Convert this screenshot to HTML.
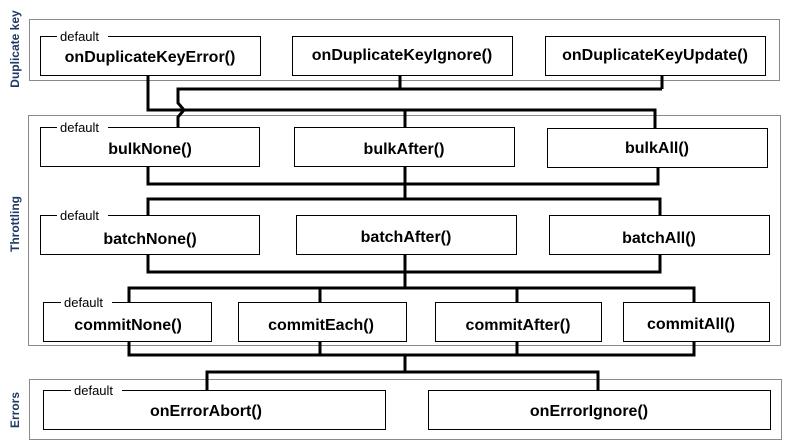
<!DOCTYPE html>
<html><head><meta charset="utf-8"><style>
html,body{margin:0;padding:0;background:#fff;}
svg{display:block;}
.g{fill:none;stroke:#8a8a8a;stroke-width:1}
.b{fill:#fff;stroke:#000;stroke-width:1}
.l{fill:none;stroke:#000;stroke-width:3}
.t{font-family:"Liberation Sans",sans-serif;font-weight:bold;font-size:16px;fill:#000;text-anchor:middle}
.d{font-family:"Liberation Sans",sans-serif;font-size:13px;fill:#000}
.s{font-family:"Liberation Sans",sans-serif;font-weight:bold;font-size:12px;fill:#1f3864;text-anchor:middle}
</style></head><body>
<svg width="787" height="443" viewBox="0 0 787 443" xmlns="http://www.w3.org/2000/svg">
<rect class="g" x="29.5" y="19.5" width="750" height="61"/>
<rect class="g" x="28.5" y="115.5" width="752" height="230"/>
<rect class="g" x="29.5" y="379.5" width="752" height="60"/>
<text class="s" transform="translate(19,49) rotate(-90)">Duplicate key</text>
<text class="s" transform="translate(19,224) rotate(-90)">Throttling</text>
<text class="s" transform="translate(19,410) rotate(-90)">Errors</text>
<!-- connectors -->
<path class="l" d="M148 75 V110 H655 V128 M405 110 V128"/>
<path class="l" d="M400 75 V89 M662 75 V89 M178 127 V117 L184 110 L178 103 V89 H662"/>
<path class="l" d="M148 166 V184 H658 V167 M405 166 V199 M148 215 V199 H660 V215"/>
<path class="l" d="M148 254 V272 H660 V254 M405 254 V288 M129 302 V288 H694 V302 M320 288 V302 M517 288 V302"/>
<path class="l" d="M129 341 V355 H694 V341 M320 341 V355 M517 341 V355 M405 355 V372 M207 390 V372 H598 V390"/>
<!-- boxes -->
<rect class="b" x="40.5" y="36.5" width="220" height="39"/>
<rect class="b" x="292.5" y="36.5" width="220" height="39"/>
<rect class="b" x="545.5" y="36.5" width="220" height="39"/>
<rect class="b" x="40.5" y="127.5" width="219" height="39"/>
<rect class="b" x="294.5" y="127.5" width="220" height="39"/>
<rect class="b" x="547.5" y="128.5" width="220" height="39"/>
<rect class="b" x="40.5" y="215.5" width="219" height="39"/>
<rect class="b" x="296.5" y="215.5" width="220" height="39"/>
<rect class="b" x="549.5" y="215.5" width="220" height="39"/>
<rect class="b" x="43.5" y="302.5" width="168" height="39"/>
<rect class="b" x="238.5" y="302.5" width="168" height="39"/>
<rect class="b" x="435.5" y="302.5" width="166" height="39"/>
<rect class="b" x="623.5" y="302.5" width="146" height="39"/>
<rect class="b" x="43.5" y="390.5" width="342" height="39"/>
<rect class="b" x="428.5" y="390.5" width="342" height="39"/>
<!-- default labels -->
<rect x="57" y="29" width="51" height="14" fill="#fff"/><text class="d" x="60" y="41">default</text>
<rect x="57" y="120" width="51" height="14" fill="#fff"/><text class="d" x="60" y="132">default</text>
<rect x="57" y="208" width="51" height="14" fill="#fff"/><text class="d" x="60" y="220">default</text>
<rect x="61" y="295" width="51" height="14" fill="#fff"/><text class="d" x="64" y="307">default</text>
<rect x="71" y="383" width="51" height="14" fill="#fff"/><text class="d" x="74" y="395">default</text>
<!-- main labels -->
<text class="t" x="150" y="62">onDuplicateKeyError()</text>
<text class="t" x="402" y="60">onDuplicateKeyIgnore()</text>
<text class="t" x="655" y="60">onDuplicateKeyUpdate()</text>
<text class="t" x="150" y="154">bulkNone()</text>
<text class="t" x="404" y="154">bulkAfter()</text>
<text class="t" x="657" y="153">bulkAll()</text>
<text class="t" x="150" y="244">batchNone()</text>
<text class="t" x="406" y="242">batchAfter()</text>
<text class="t" x="659" y="243">batchAll()</text>
<text class="t" x="128" y="330">commitNone()</text>
<text class="t" x="321" y="330">commitEach()</text>
<text class="t" x="518" y="330">commitAfter()</text>
<text class="t" x="691" y="329">commitAll()</text>
<text class="t" x="206" y="416">onErrorAbort()</text>
<text class="t" x="589" y="416">onErrorIgnore()</text>
</svg>
</body></html>
